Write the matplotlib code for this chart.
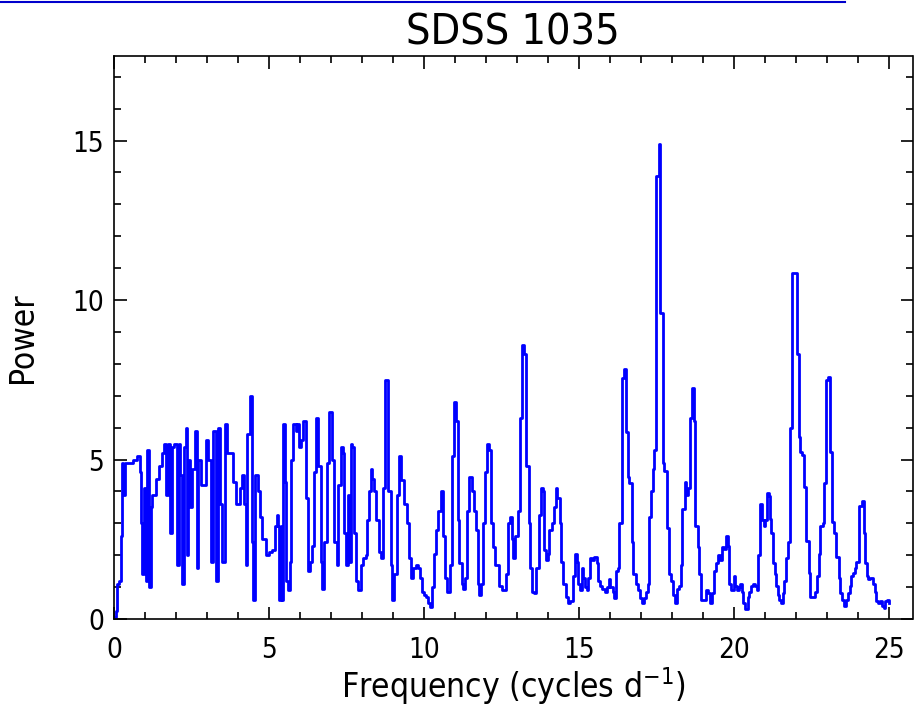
import numpy as np
import matplotlib
matplotlib.use('Agg')
import matplotlib.pyplot as plt
from matplotlib.ticker import MultipleLocator
from matplotlib.lines import Line2D

# periodogram, drawn as steps (freq = left edge of each step)
freq_a = [0.0, 0.05, 0.11, 0.16, 0.22, 0.27, 0.30, 0.35, 0.60, 0.75,
          0.83, 0.86, 0.91, 0.97, 1.02, 1.05, 1.13, 1.18, 1.24, 1.34,
          1.45, 1.54, 1.61, 1.69, 1.75, 1.81, 1.86, 1.94, 2.02, 2.08,
          2.13, 2.18, 2.26, 2.31, 2.35, 2.40, 2.46, 2.53, 2.60, 2.67,
          2.72, 2.81, 2.96, 3.04, 3.12, 3.20, 3.28, 3.35, 3.42, 3.49,
          3.57, 3.63, 3.73, 3.84, 3.95, 4.05, 4.14, 4.19, 4.25, 4.30,
          4.37, 4.44, 4.49, 4.55, 4.63, 4.71, 4.78]
power_a = [0.05, 0.25, 1.1, 1.2, 2.6, 4.9, 3.9, 4.9, 5.0, 5.1,
           4.6, 3.0, 1.4, 4.1, 1.2, 5.3, 1.0, 3.5, 3.9, 4.4,
           4.8, 5.2, 5.5, 3.9, 5.5, 2.7, 5.4, 5.5, 1.7, 5.5,
           4.5, 1.1, 5.4, 6.0, 2.0, 5.0, 3.5, 4.7, 5.9, 1.6,
           5.0, 4.2, 5.6, 5.0, 1.8, 5.9, 1.2, 6.0, 3.6, 1.8,
           6.1, 5.2, 5.2, 4.3, 3.6, 4.1, 4.5, 3.6, 1.7, 5.8,
           7.0, 2.4, 0.6, 4.5, 4.0, 3.2, 2.5]

freq_b = [4.89, 5.00, 5.11, 5.18, 5.25, 5.29, 5.32, 5.38, 5.43, 5.46,
          5.52, 5.56, 5.61, 5.66, 5.70, 5.78, 5.86, 5.91, 5.97, 6.02,
          6.08, 6.13, 6.18, 6.24, 6.31, 6.38, 6.45, 6.53, 6.59, 6.67,
          6.72, 6.77, 6.86, 6.94, 7.02, 7.10, 7.18, 7.23, 7.31, 7.37,
          7.42, 7.47, 7.53, 7.58, 7.63, 7.69, 7.74, 7.82, 7.88, 7.96,
          8.03, 8.12, 8.17, 8.23, 8.28, 8.33, 8.39, 8.46, 8.53, 8.60,
          8.68, 8.73, 8.80, 8.84, 8.92, 8.98, 9.03, 9.12, 9.19, 9.27,
          9.35, 9.44, 9.52, 9.57, 9.65, 9.73, 9.81, 9.87]
power_b = [2.0, 2.1, 2.15, 2.9, 3.25, 2.9, 0.6, 2.9, 0.6, 6.1,
           4.3, 1.2, 0.9, 1.8, 5.0, 6.1, 5.9, 6.1, 5.4, 5.6,
           6.2, 6.2, 3.8, 1.5, 1.8, 2.3, 4.6, 6.3, 4.8, 1.8,
           0.95, 2.4, 4.9, 6.5, 5.0, 2.4, 1.7, 4.2, 5.4, 5.2,
           2.7, 1.7, 3.9, 1.8, 5.5, 5.4, 2.7, 1.2, 0.9, 1.7,
           1.9, 2.0, 3.1, 4.0, 4.7, 4.4, 4.0, 3.1, 2.1, 1.9,
           4.1, 7.5, 7.5, 4.0, 1.7, 0.6, 1.4, 3.9, 5.1, 4.35,
           3.6, 3.0, 1.9, 1.3, 1.6, 1.7, 1.6, 1.3]

freq_c = [9.92, 10.00, 10.06, 10.13, 10.19, 10.26, 10.32, 10.39, 10.46, 10.54,
          10.60, 10.67, 10.73, 10.82, 10.89, 10.98, 11.03, 11.09, 11.14, 11.22,
          11.27, 11.32, 11.38, 11.45, 11.51, 11.56, 11.61, 11.68, 11.74, 11.78,
          11.84, 11.89, 11.97, 12.04, 12.10, 12.15, 12.22, 12.29, 12.37, 12.42,
          12.51, 12.58, 12.65, 12.72, 12.77, 12.83, 12.88, 12.94, 12.99, 13.04,
          13.10, 13.16, 13.23, 13.29, 13.37, 13.42, 13.48, 13.55, 13.61, 13.70,
          13.76, 13.83, 13.87, 13.94, 13.99, 14.04, 14.12, 14.19, 14.26, 14.30,
          14.37, 14.43, 14.49, 14.57, 14.63, 14.71, 14.80, 14.87, 14.92]
power_c = [0.85, 0.75, 0.7, 0.5, 0.37, 1.0, 2.05, 2.8, 3.4, 4.0,
           2.6, 1.3, 0.85, 1.7, 5.1, 6.8, 6.2, 3.1, 1.75, 1.1,
           0.95, 1.3, 3.4, 4.45, 4.45, 4.0, 3.4, 2.8, 1.1, 0.75,
           1.1, 3.0, 4.6, 5.5, 5.3, 3.0, 2.25, 1.7, 1.7, 1.05,
           0.9, 0.9, 1.4, 3.0, 3.2, 2.5, 1.9, 2.6, 2.6, 3.4,
           6.3, 8.6, 8.3, 4.8, 3.0, 1.6, 0.85, 0.8, 1.6, 3.25,
           4.1, 4.0, 2.15, 1.85, 2.05, 2.8, 3.0, 3.5, 4.1, 3.8,
           3.0, 1.8, 1.1, 0.7, 0.5, 0.55, 1.35, 2.05, 1.8]

freq_d = [14.96, 15.02, 15.09, 15.14, 15.19, 15.25, 15.30, 15.35, 15.43, 15.49,
          15.57, 15.62, 15.68, 15.73, 15.82, 15.89, 15.95, 16.00, 16.08, 16.14,
          16.18, 16.25, 16.30, 16.38, 16.45, 16.51, 16.56, 16.62, 16.70, 16.75,
          16.83, 16.89, 16.97, 17.02, 17.10, 17.15, 17.22, 17.26, 17.32, 17.37,
          17.43, 17.49, 17.56, 17.62, 17.69, 17.75, 17.83, 17.90, 17.97, 18.03,
          18.10, 18.16, 18.23, 18.29, 18.33, 18.40, 18.45, 18.51, 18.56, 18.63,
          18.69, 18.74, 18.82, 18.87, 18.94, 19.01, 19.09, 19.15, 19.22, 19.28,
          19.34, 19.41, 19.47, 19.55, 19.60, 19.66, 19.73, 19.80, 19.84, 19.90]
power_d = [1.1, 0.9, 1.6, 1.3, 1.0, 0.9, 1.3, 1.9, 1.85, 1.95,
           1.75, 1.2, 1.05, 0.95, 0.85, 1.0, 1.25, 1.0, 0.85, 0.65,
           1.5, 1.6, 3.0, 7.55, 7.85, 5.85, 4.45, 4.25, 2.4, 1.4,
           1.1, 0.9, 0.65, 0.5, 0.65, 0.85, 1.1, 3.2, 4.0, 4.7,
           5.3, 13.9, 14.9, 9.6, 4.9, 4.65, 2.85, 1.4, 1.2, 0.75,
           0.5, 0.95, 1.05, 1.7, 3.45, 4.3, 3.9, 4.1, 6.3, 7.25,
           6.2, 2.9, 2.25, 1.4, 0.6, 0.6, 0.9, 0.8, 0.5, 0.8,
           1.5, 1.75, 2.0, 1.85, 2.25, 2.2, 2.6, 2.3, 1.1, 0.9]

freq_e = [19.98, 20.03, 20.09, 20.14, 20.19, 20.25, 20.30, 20.35, 20.43, 20.49,
          20.54, 20.60, 20.68, 20.73, 20.77, 20.84, 20.89, 20.95, 21.00, 21.05,
          21.11, 21.14, 21.18, 21.25, 21.30, 21.35, 21.41, 21.46, 21.52, 21.57,
          21.62, 21.68, 21.75, 21.81, 21.87, 21.95, 22.02, 22.08, 22.13, 22.19,
          22.26, 22.32, 22.40, 22.45, 22.54, 22.61, 22.67, 22.72, 22.77, 22.86,
          22.91, 22.97, 23.03, 23.10, 23.15, 23.23, 23.29, 23.37, 23.42, 23.48,
          23.55, 23.61, 23.67, 23.72, 23.77, 23.83, 23.89, 23.94, 23.99, 24.04,
          24.12, 24.17, 24.23, 24.28, 24.33, 24.39, 24.47, 24.53, 24.58, 24.63,
          24.71, 24.76, 24.82, 24.87, 24.92, 24.99]
power_e = [1.35, 1.05, 0.9, 1.0, 1.1, 0.85, 0.5, 0.3, 0.7, 0.85,
           1.05, 1.1, 1.05, 0.9, 2.0, 3.6, 3.1, 2.9, 3.1, 3.95,
           3.85, 3.15, 2.7, 1.75, 1.4, 1.05, 0.75, 0.6, 0.5, 0.8,
           1.2, 1.9, 2.4, 6.0, 10.85, 10.85, 8.3, 5.7, 5.25, 5.15,
           4.15, 2.45, 1.45, 0.7, 0.7, 0.85, 1.35, 2.05, 2.9, 3.0,
           4.25, 7.5, 7.6, 5.25, 3.05, 2.7, 1.95, 1.3, 0.8, 0.6,
           0.4, 0.6, 0.8, 1.05, 1.35, 1.45, 1.6, 1.8, 1.8, 3.55,
           3.7, 2.7, 1.75, 1.35, 1.25, 1.3, 1.1, 0.85, 0.55, 0.5,
           0.55, 0.4, 0.35, 0.55, 0.6, 0.5]

freq = np.array(freq_a + freq_b + freq_c + freq_d + freq_e)
power = np.array(power_a + power_b + power_c + power_d + power_e)

plt.rcParams['font.family'] = ['DejaVu Sans']
plt.rcParams['font.stretch'] = 'condensed'
plt.rcParams['mathtext.default'] = 'regular'

fig = plt.figure(figsize=(9.14, 7.09), dpi=100)
ax = fig.add_axes([114/914, 90/709, 798.5/914, 563/709])

ax.plot(freq, power, drawstyle='steps-post', color='#0000ff', lw=2)

ax.set_xlim(0, 25.75)
ax.set_ylim(0, 17.65)
ax.xaxis.set_major_locator(MultipleLocator(5))
ax.xaxis.set_minor_locator(MultipleLocator(1))
ax.yaxis.set_major_locator(MultipleLocator(5))
ax.yaxis.set_minor_locator(MultipleLocator(1))
ax.tick_params(which='both', direction='in', top=True, right=True,
               width=1.2, labelsize=20)
ax.tick_params(which='major', length=9)
ax.tick_params(which='minor', length=5)
ax.tick_params(axis='x', pad=12)
ax.tick_params(axis='y', pad=7)
for s in ax.spines.values():
    s.set_linewidth(1.2)

ax.set_title('SDSS 1035', fontsize=31, pad=8)
ax.set_xlabel('Frequency (cycles d$^{-1}$)', fontsize=24, labelpad=1)
ax.set_ylabel('Power', fontsize=24, labelpad=24)

# thin blue rule along the top edge of the image
fig.add_artist(Line2D([0, 845/914], [1 - 1.5/709] * 2, color='#0000cc', lw=1.5))

fig.savefig('out.png', dpi=100)
